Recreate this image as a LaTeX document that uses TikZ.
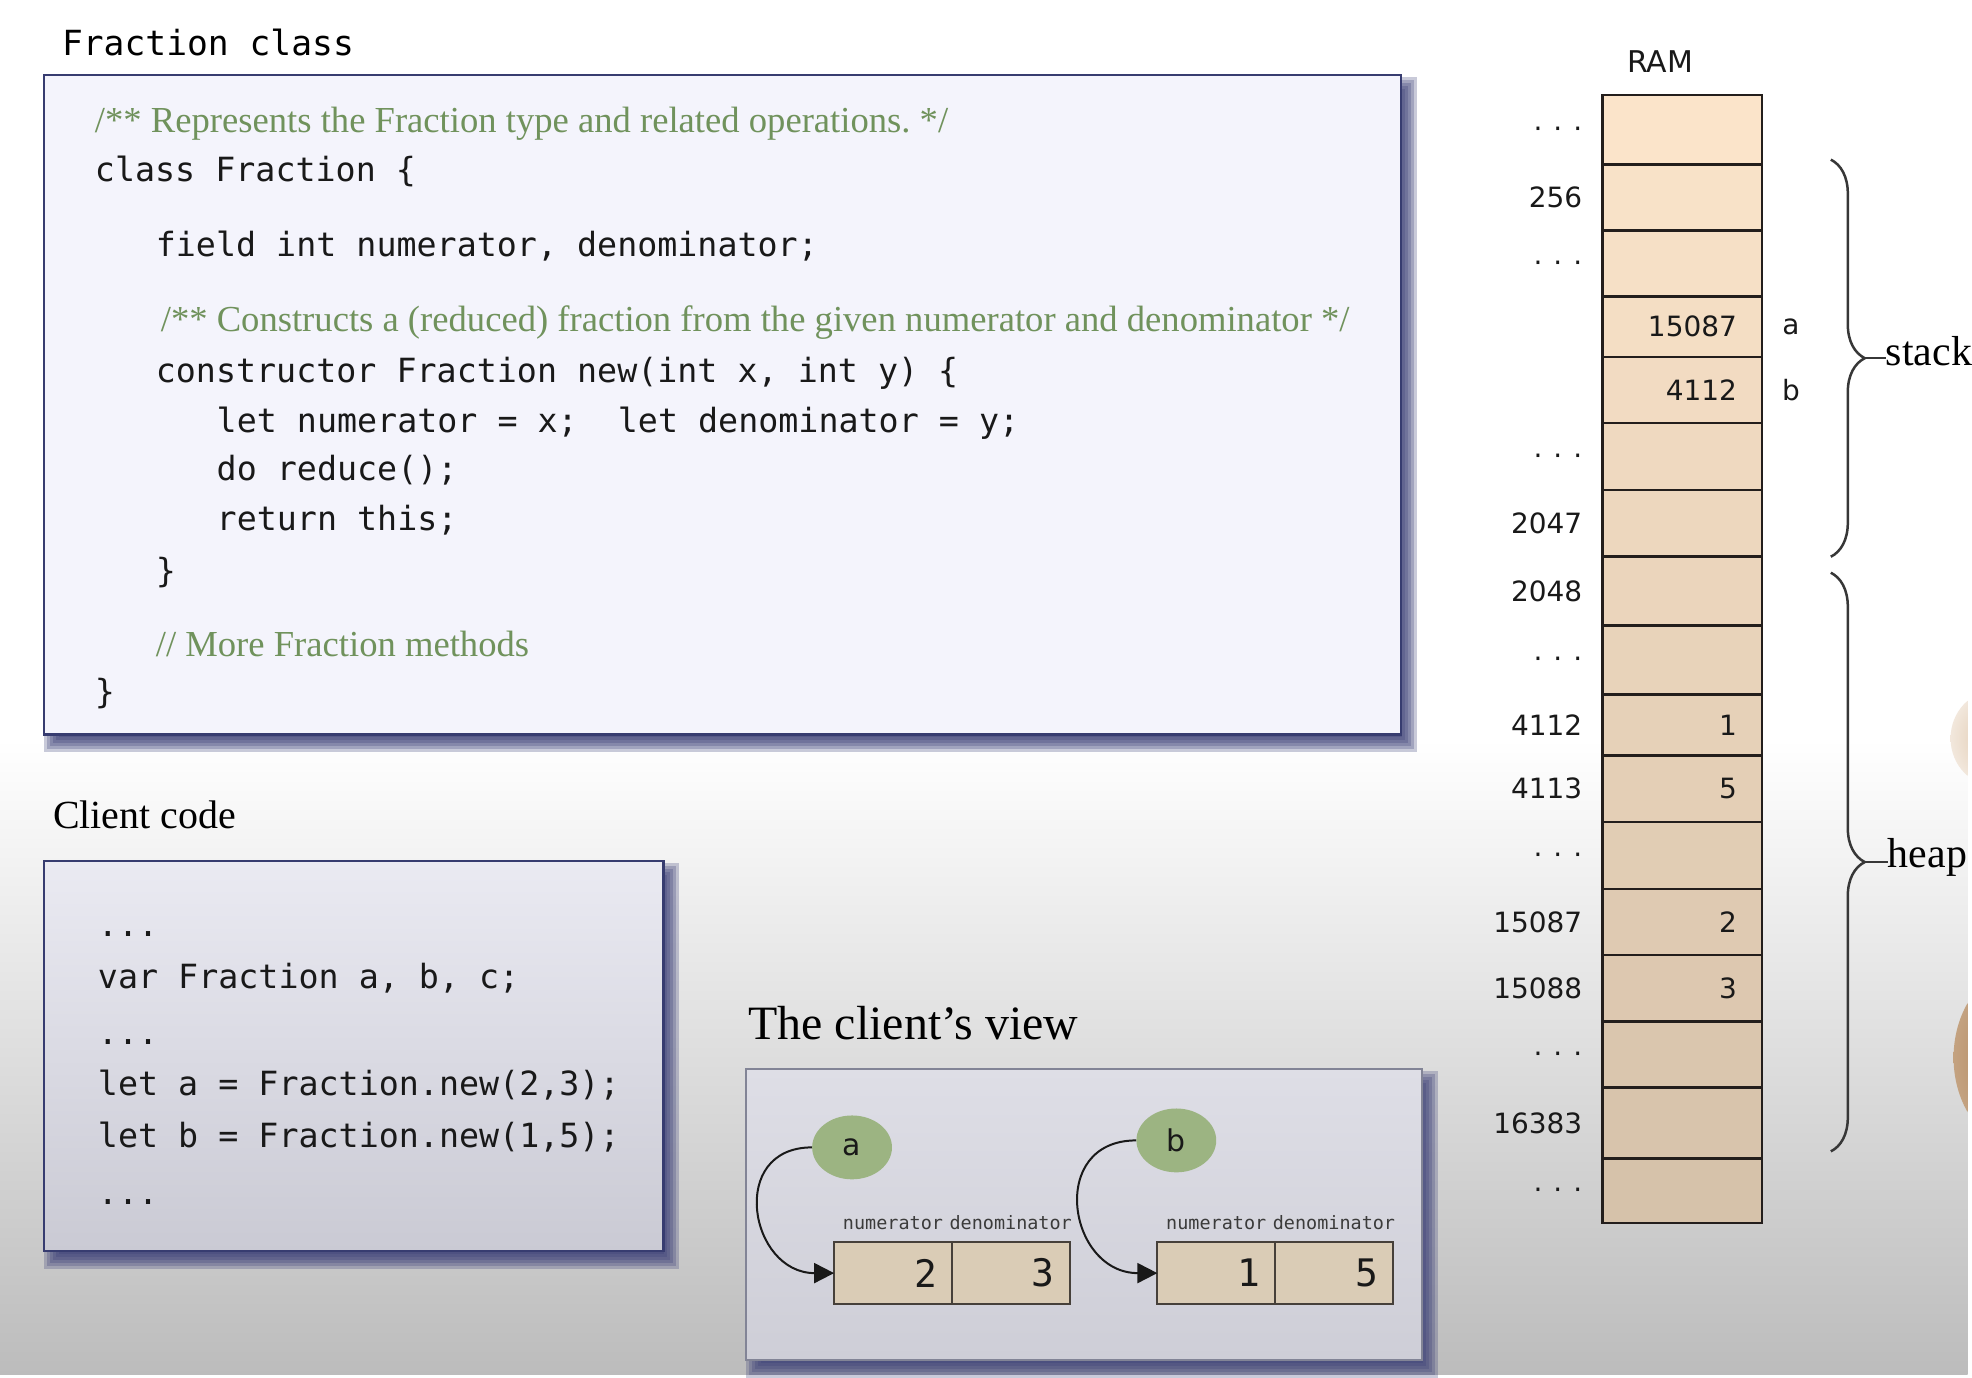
\documentclass[tikz,border=0pt]{standalone}
\usepackage{fontspec}
\setmainfont{Liberation Serif}
\newfontfamily\codefont{DejaVu Sans Mono}
\newfontfamily\ramfont{DejaVu Sans}
\usetikzlibrary{arrows.meta,shapes.geometric,decorations.pathreplacing}
\frenchspacing
\definecolor{cmtgreen}{RGB}{112,146,92}
\definecolor{codeink}{RGB}{25,25,25}
\definecolor{fracfill}{RGB}{244,244,252}
\definecolor{boxline}{RGB}{55,60,112}
\definecolor{shadowcol}{RGB}{58,62,118}
\definecolor{clienttop}{RGB}{234,234,242}
\definecolor{clientbot}{RGB}{202,202,212}
\definecolor{viewtop}{RGB}{222,222,230}
\definecolor{viewbot}{RGB}{206,206,215}
\definecolor{viewline}{RGB}{130,132,150}
\definecolor{circfill}{RGB}{156,180,130}
\definecolor{fieldfill}{RGB}{218,204,182}
\definecolor{fieldline}{RGB}{70,64,58}
\definecolor{ramtop}{RGB}{251,228,202}
\definecolor{rambot}{RGB}{214,194,170}
\definecolor{ramline}{RGB}{35,30,28}
\definecolor{bgbot}{RGB}{188,188,188}
\definecolor{bracecol}{RGB}{55,55,55}
\definecolor{skinA}{RGB}{222,196,168}
\definecolor{skinB}{RGB}{170,122,74}
\pgfdeclarelayer{bg}
\pgfdeclarelayer{shadowlayer}
\pgfsetlayers{bg,shadowlayer,main}
\newcommand\boxshadow[4]{%
  \begin{pgfonlayer}{shadowlayer}
  \foreach \e in {8,5,2,-1,-4,-7}{
    \fill[shadowcol, opacity=0.27] ({#1+8-\e},{-(#2+10-\e)}) rectangle ({#3+8+\e},{-(#4+10+\e)});
  }
  \end{pgfonlayer}}
\newcommand\ramdots{·\hspace{11pt}·\hspace{11pt}·}
\begin{document}
\begin{tikzpicture}[x=1pt,y=1pt,
  code/.style={font=\codefont\fontsize{33.4pt}{40pt}\selectfont, text=codeink, anchor=base west, inner sep=0pt},
  cmt/.style={font=\fontsize{36.7pt}{44pt}\selectfont, text=cmtgreen, anchor=base west, inner sep=0pt},
  heading/.style={font=\fontsize{#1}{48pt}\selectfont, text=black, anchor=base west, inner sep=0pt},
  monotitle/.style={font=\codefont\fontsize{34.7pt}{40pt}\selectfont, text=black, anchor=base west, inner sep=0pt},
  panel/.style={anchor=north west, inner sep=0pt, outer sep=0pt},
  varcirc/.style={ellipse, fill=circfill, minimum width=80pt, minimum height=64pt, inner sep=0pt,
    font=\ramfont\fontsize{30pt}{34pt}\selectfont, text=codeink},
  field/.style={draw=fieldline, line width=2pt, fill=fieldfill, minimum height=62pt, text width=88pt,
    inner xsep=15pt, inner ysep=0pt, outer sep=0pt, align=right, anchor=west,
    font=\codefont\fontsize{38pt}{42pt}\selectfont, text=codeink},
  fieldlbl/.style={font=\codefont\fontsize{18.5pt}{20pt}\selectfont, text={codeink!85}, anchor=base, inner sep=0pt},
  ptr/.style={draw=codeink, line width=2pt, -{Triangle[length=20pt,width=20pt]}},
  ramcell/.style={draw=ramline, line width=2.5pt, minimum width=160pt, inner sep=0pt, outer sep=0pt},
  addr/.style={font=\ramfont\fontsize{28pt}{34pt}\selectfont, text=codeink, anchor=east, inner sep=0pt},
  dotlbl/.style={addr, anchor=base east},
  bracestyle/.style={decorate, decoration={brace, amplitude=34pt}, draw=bracecol, line width=2.5pt},
  sidetext/.style={font=\fontsize{42pt}{48pt}\selectfont, text=black, anchor=base west, inner sep=0pt}]

% ---------- background ----------
\begin{pgfonlayer}{bg}
\useasboundingbox (0,0) rectangle (1972,-1378);
\fill[white] (0,0) rectangle (1972,-741);
\shade[top color=white, bottom color=bgbot] (0,-740) rectangle (1972,-1378);
\begin{scope}
\clip (0,0) rectangle (1972,-1378);
\shade[inner color=skinA, outer color=skinA!40!white] (2000,-740) ellipse [x radius=45, y radius=48];
\shade[inner color=skinB, outer color=skinB!70!white] (2030,-1060) ellipse [x radius=72, y radius=92];
\end{scope}
\end{pgfonlayer}

% ---------- Fraction class ----------
\node[monotitle] (ftitle) at (62,-56) {Fraction class};
\node[panel, draw=boxline, line width=2.5pt, fill=fracfill, minimum width=1360pt, minimum height=661pt] (fracbox) at (44,-75) {};
\boxshadow{44}{75}{1404}{736}
\node[cmt]  (f1)  at (95,-133)  {/** Represents the Fraction type and related operations. */};
\node[code] (f2)  at (95,-182)  {class Fraction \{};
\node[code] (f3)  at (156,-257) {field int numerator, denominator;};
\node[cmt]  (f4)  at (161,-332) {/** Constructs a (reduced) fraction from the given numerator and denominator */};
\node[code] (f5)  at (156,-383) {constructor Fraction new(int x, int y) \{};
\node[code] (f6)  at (217,-433) {let numerator = x;\ \ let denominator = y;};
\node[code] (f7)  at (217,-482) {do reduce();};
\node[code] (f8)  at (217,-532) {return this;};
\node[code] (f9)  at (156,-584) {\}};
\node[cmt]  (f10) at (156,-658) {// More Fraction methods};
\node[code] (f11) at (95,-705)  {\}};

% ---------- Client code ----------
\node[heading=40pt] (ctitle) at (53,-830) {Client code};
\node[panel, draw=boxline, line width=2.5pt, top color=clienttop, bottom color=clientbot, minimum width=621pt, minimum height=391pt] (clientbox) at (44,-863) {};
\boxshadow{44}{863}{665}{1254}
\node[code] (k1) at (98,-939)  {...};
\node[code] (k2) at (98,-991)  {var Fraction a, b, c;};
\node[code] (k3) at (98,-1047) {...};
\node[code] (k4) at (98,-1098) {let a = Fraction.new(2,3);};
\node[code] (k5) at (98,-1150) {let b = Fraction.new(1,5);};
\node[code] (k6) at (98,-1207) {...};

% ---------- The client's view ----------
\node[heading=48pt] (vtitle) at (750,-1042) {The client’s view};
\node[panel, draw=viewline, line width=2pt, top color=viewtop, bottom color=viewbot, minimum width=677pt, minimum height=292pt] (viewbox) at (748,-1071) {};
\boxshadow{748}{1071}{1425}{1363}
\node[varcirc] (ca) at (854,-1150) {a};
\node[varcirc] (cb) at (1179,-1143) {b};
\node[field] (fa1) at (836,-1276) {2};
\node[field] (fa2) at (fa1.east) {3};
\node[field] (fb1) at (1160,-1276) {1};
\node[field] (fb2) at (fb1.east) {5};
\node[fieldlbl] (la1) at ([yshift=13pt]fa1.north) {numerator};
\node[fieldlbl] (la2) at ([yshift=13pt]fa2.north) {denominator};
\node[fieldlbl] (lb1) at ([yshift=13pt]fb1.north) {numerator};
\node[fieldlbl] (lb2) at ([yshift=13pt]fb2.north) {denominator};
\draw[ptr] (ca.west) to[out=180, in=180, looseness=1.7] (fa1.west);
\draw[ptr] (cb.west) to[out=180, in=180, looseness=1.7] (fb1.west);

% ---------- RAM ----------
\node[font=\ramfont\fontsize{30pt}{34pt}\selectfont, text=codeink, inner sep=0pt] (ramtitle) at (1664,-62) {RAM};
\foreach \i/\t/\b in {1/95/165, 2/165/231, 3/231/297, 4/297/358, 5/358/424, 6/424/491,
  7/491/558, 8/558/627, 9/627/696, 10/696/757, 11/757/824, 12/824/891, 13/891/957,
  14/957/1024, 15/1024/1090, 16/1090/1161, 17/1161/1226}{
  \pgfmathtruncatemacro\pp{100-(\i-1)*100/16}
  \node[ramcell, fill=ramtop!\pp!rambot, minimum height={(\b-\t)*1pt}] (r\i) at (1686,{-(\t+\b)/2}) {};
}
% addresses
\node[dotlbl] (a1)  at ([xshift=-20pt,yshift=-9pt]r1.west)  {\ramdots};
\node[addr]   (a2)  at ([xshift=-20pt]r2.west)  {256};
\node[dotlbl] (a3)  at ([xshift=-20pt,yshift=-9pt]r3.west)  {\ramdots};
\node[dotlbl] (a6)  at ([xshift=-20pt,yshift=-9pt]r6.west)  {\ramdots};
\node[addr]   (a7)  at ([xshift=-20pt]r7.west)  {2047};
\node[addr]   (a8)  at ([xshift=-20pt]r8.west)  {2048};
\node[dotlbl] (a9)  at ([xshift=-20pt,yshift=-9pt]r9.west)  {\ramdots};
\node[addr]   (a10) at ([xshift=-20pt]r10.west) {4112};
\node[addr]   (a11) at ([xshift=-20pt]r11.west) {4113};
\node[dotlbl] (a12) at ([xshift=-20pt,yshift=-9pt]r12.west) {\ramdots};
\node[addr]   (a13) at ([xshift=-20pt]r13.west) {15087};
\node[addr]   (a14) at ([xshift=-20pt]r14.west) {15088};
\node[dotlbl] (a15) at ([xshift=-20pt,yshift=-9pt]r15.west) {\ramdots};
\node[addr]   (a16) at ([xshift=-20pt]r16.west) {16383};
\node[dotlbl] (a17) at ([xshift=-20pt,yshift=-9pt]r17.west) {\ramdots};
% values
\node[addr] (v4)  at ([xshift=-25pt]r4.east)  {15087};
\node[addr] (v5)  at ([xshift=-25pt]r5.east)  {4112};
\node[addr] (v10) at ([xshift=-25pt]r10.east) {1};
\node[addr] (v11) at ([xshift=-25pt]r11.east) {5};
\node[addr] (v13) at ([xshift=-25pt]r13.east) {2};
\node[addr] (v14) at ([xshift=-25pt]r14.east) {3};
% variable names
\node[addr, anchor=center] (sa) at ([xshift=29pt]r4.east) {a};
\node[addr, anchor=center] (sb) at ([xshift=29pt]r5.east) {b};

% ---------- braces ----------
\coordinate (stA) at (1835,-160);
\coordinate (stB) at (1835,-558);
\coordinate (stTip) at (1869,-359);
\draw[bracestyle] (stA) -- (stB);
\node[sidetext] (stack) at (1890,-366) {stack};
\draw[bracecol, line width=2pt] (stTip) -- (stTip -| stack.west);
\coordinate (hpA) at (1835,-574);
\coordinate (hpB) at (1835,-1154);
\coordinate (hpTip) at (1869,-864);
\draw[bracestyle] (hpA) -- (hpB);
\node[sidetext] (heap) at (1892,-869) {heap};
\draw[bracecol, line width=2pt] (hpTip) -- (hpTip -| heap.west);
\end{tikzpicture}
\end{document}
